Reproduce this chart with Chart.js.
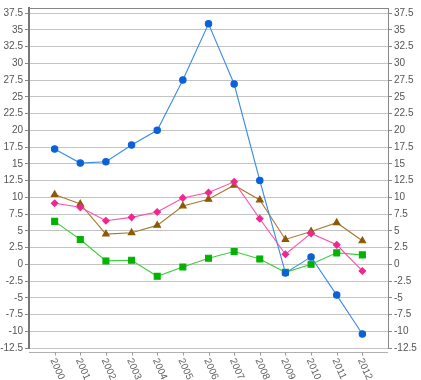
<!DOCTYPE html>
<html>
<head>
<meta charset="utf-8">
<script src="https://cdn.jsdelivr.net/npm/chart.js@4/dist/chart.umd.min.js"></script>
<style>
html,body{margin:0;padding:0;background:#fff;}
#wrap{width:421px;height:380px;}
</style>
</head>
<body>
<div id="wrap"><canvas id="c" width="421" height="380"></canvas></div>
<script>
const years = [2000,2001,2002,2003,2004,2005,2006,2007,2008,2009,2010,2011,2012];
const blueSeries  = [17.2,15.1,15.3,17.8,20.0,27.5,35.9,26.9,12.5,-1.3,1.1,-4.6,-10.4];
const pinkSeries  = [9.1,8.5,6.5,7.0,7.8,9.9,10.7,12.3,6.8,1.5,4.6,2.9,-1.0];
const brownSeries = [10.4,9.0,4.5,4.7,5.8,8.7,9.7,11.8,9.6,3.7,4.9,6.2,3.5];
const greenSeries = [6.4,3.7,0.5,0.6,-1.8,-0.4,0.9,1.9,0.8,-1.2,0.0,1.7,1.4];
const yTicks = [-12.5,-10,-7.5,-5,-2.5,0,2.5,5,7.5,10,12.5,15,17.5,20,22.5,25,27.5,30,32.5,35,37.5];
const yMin = -12.5, yMax = 38.25;

const pts = arr => years.map((y,i)=>({x:y, y:arr[i]}));

const setTicks = axis => { axis.ticks = yTicks.map(v => ({ value: v })); };

const fmt = v => String(v);

const xLabelPlugin = {
  id: 'xLabels',
  afterDraw(chart) {
    const ctx = chart.ctx;
    const xs = chart.scales.x;
    const area = chart.chartArea;
    ctx.save();
    ctx.strokeStyle = '#888';
    ctx.lineWidth = 1;
    ctx.beginPath();
    ctx.moveTo(area.left, area.top + 0.5);
    ctx.lineTo(area.right, area.top + 0.5);
    ctx.stroke();
    const yl = area.bottom + 4.5;
    ctx.strokeStyle = '#b0b0b0';
    ctx.beginPath();
    ctx.moveTo(area.left, yl);
    ctx.lineTo(area.right, yl);
    ctx.stroke();
    ctx.strokeStyle = '#999';
    years.forEach(yr => {
      const px = Math.round(xs.getPixelForValue(yr)) + 0.5;
      ctx.beginPath();
      ctx.moveTo(px, yl);
      ctx.lineTo(px, yl + 3);
      ctx.stroke();
    });
    ctx.fillStyle = '#606060';
    ctx.font = '10px "Liberation Sans", Arial, sans-serif';
    ctx.textAlign = 'left';
    ctx.textBaseline = 'middle';
    years.forEach(yr => {
      const px = xs.getPixelForValue(yr);
      ctx.save();
      ctx.translate(px - 2, area.bottom + 11);
      ctx.rotate(66 * Math.PI / 180);
      ctx.fillText(String(yr), 0, 0);
      ctx.restore();
    });
    ctx.restore();
  }
};

const common = (color, pColor, style, r) => ({
  borderColor: color,
  backgroundColor: pColor,
  pointBackgroundColor: pColor,
  pointBorderColor: pColor,
  pointStyle: style,
  pointRadius: r,
  pointHoverRadius: r,
  borderWidth: 1.1,
  tension: 0
});

new Chart(document.getElementById('c'), {
  type: 'line',
  data: {
    datasets: [
      Object.assign({label:'A', data: pts(blueSeries)}, common('#3d8be6','#0a62d6','circle',3.2)),
      Object.assign({label:'B', data: pts(pinkSeries)}, common('#ff4fa8','#f0278f','rectRot',3.3)),
      Object.assign({label:'C', data: pts(brownSeries)}, common('#a67a2e','#8c5a06','triangle',3.8)),
      Object.assign({label:'D', data: pts(greenSeries)}, common('#3ccf3c','#00b300','rect',4.2))
    ]
  },
  options: {
    responsive: false,
    animation: false,
    layout: { padding: { top: 3, left: 0, right: 0, bottom: 0 } },
    plugins: { legend: { display: false }, tooltip: { enabled: false } },
    scales: {
      x: {
        type: 'linear',
        min: 1999, max: 2013,
        ticks: { display: false, stepSize: 1 },
        grid: { display: false },
        border: { display: false },
        afterFit: s => { s.height = 32; }
      },
      y: {
        position: 'left',
        min: yMin, max: yMax,
        afterBuildTicks: setTicks,
        ticks: { color: '#555', font: { size: 10, family: '"Liberation Sans", Arial, sans-serif' }, padding: 2, callback: fmt },
        grid: { color: '#c4c4c4', lineWidth: 1, tickLength: 4, tickColor: '#888' },
        border: { display: true, color: '#777', width: 2 },
        afterFit: s => { s.width = 29; }
      },
      y2: {
        position: 'right',
        min: yMin, max: yMax,
        afterBuildTicks: setTicks,
        ticks: { color: '#555', font: { size: 10, family: '"Liberation Sans", Arial, sans-serif' }, padding: 2, callback: fmt },
        grid: { drawOnChartArea: false, tickLength: 4, tickColor: '#888' },
        border: { display: true, color: '#888', width: 1 },
        afterFit: s => { s.width = 33; }
      }
    }
  },
  plugins: [xLabelPlugin]
});
</script>
</body>
</html>
